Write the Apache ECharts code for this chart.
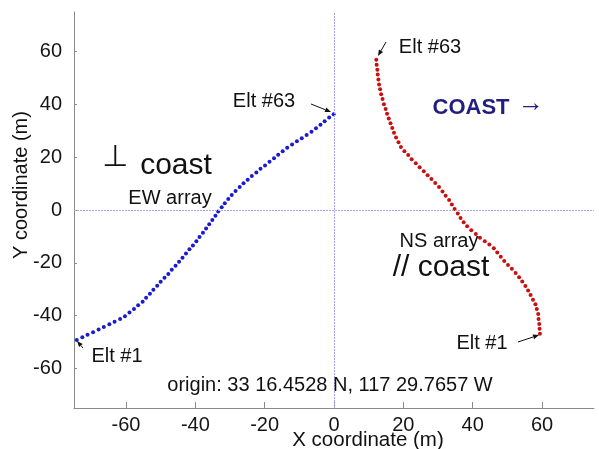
<!DOCTYPE html>
<html>
<head>
<meta charset="utf-8">
<script src="https://cdn.jsdelivr.net/npm/echarts@6/dist/echarts.min.js"></script>
<style>
  html, body { margin: 0; padding: 0; background: #ffffff; }
  #chart { width: 599px; height: 449px; }
</style>
</head>
<body>
<div id="chart"></div>
<script>
// EW array element positions, Elt #1 .. Elt #63 (x, y in metres)
const ewArray = [
  [-74.2,-49.2],[-72.6,-48.2],[-71.1,-47.3],[-69.5,-46.3],[-67.9,-45.3],
  [-66.4,-44.3],[-64.8,-43.3],[-63.3,-42.3],[-61.7,-41.3],[-60.3,-40.2],
  [-59.0,-38.8],[-57.7,-37.5],[-56.5,-36.1],[-55.2,-34.8],[-54.2,-33.2],
  [-53.1,-31.7],[-52.1,-30.2],[-51.0,-28.7],[-50.0,-27.2],[-48.9,-25.7],
  [-47.8,-24.2],[-46.8,-22.6],[-45.7,-21.1],[-44.7,-19.6],[-43.7,-18.1],
  [-42.7,-16.5],[-41.7,-14.9],[-40.7,-13.4],[-39.7,-11.8],[-38.8,-10.2],
  [-37.8,-8.6],[-36.9,-7.0],[-36.0,-5.4],[-35.1,-3.8],[-34.2,-2.2],
  [-33.4,-0.6],[-32.4,1.0],[-31.5,2.6],[-30.5,4.2],[-29.5,5.7],
  [-28.4,7.2],[-27.2,8.7],[-26.1,10.1],[-24.9,11.5],[-23.7,12.9],
  [-22.4,14.2],[-21.2,15.6],[-19.9,16.9],[-18.6,18.3],[-17.3,19.6],
  [-16.1,20.9],[-14.8,22.3],[-13.5,23.6],[-12.1,24.8],[-10.7,26.0],
  [-9.3,27.2],[-7.9,28.4],[-6.5,29.6],[-5.2,31.0],[-3.9,32.3],
  [-2.7,33.6],[-1.4,35.0],[-0.1,36.3]
];

// NS array element positions, Elt #1 .. Elt #63 (x, y in metres)
const nsArray = [
  [59.4,-46.9],[59.3,-45.0],[59.2,-43.2],[59.0,-41.3],[58.9,-39.4],
  [58.5,-37.5],[58.1,-35.7],[57.4,-34.0],[56.7,-32.2],[56.0,-30.5],
  [55.2,-28.8],[54.3,-27.1],[53.4,-25.5],[52.4,-23.9],[51.3,-22.3],
  [50.2,-20.8],[49.1,-19.3],[48.1,-17.7],[47.1,-16.1],[46.1,-14.5],
  [44.8,-13.1],[43.5,-11.8],[42.1,-10.5],[40.9,-9.1],[39.6,-7.7],
  [38.4,-6.2],[37.4,-4.6],[36.5,-3.0],[35.7,-1.3],[34.8,0.4],
  [34.0,2.1],[33.2,3.8],[32.2,5.4],[31.3,7.0],[30.3,8.7],
  [29.2,10.2],[28.1,11.7],[27.0,13.2],[25.9,14.7],[24.7,16.2],
  [23.6,17.7],[22.4,19.2],[21.4,20.8],[20.3,22.3],[19.3,23.9],
  [18.6,25.7],[17.9,27.5],[17.3,29.3],[16.8,31.1],[16.3,32.9],
  [15.8,34.7],[15.3,36.5],[14.9,38.3],[14.4,40.1],[14.0,42.0],
  [13.6,43.8],[13.3,45.7],[13.0,47.5],[12.8,49.4],[12.6,51.3],
  [12.5,53.1],[12.3,55.0],[12.2,56.9]
];

// Axis extent and tick values (metres)
const axisMin = -75;
const axisMax = 75;
const tickValues = [-60, -40, -20, 0, 20, 40, 60];

const FONT = 'Liberation Sans, Arial, sans-serif';
const AXIS_GREY = '#8a8a8a';

const chart = echarts.init(document.getElementById('chart'), null, { renderer: 'canvas' });

// small black pointer arrow: shaft from (x1,y1) with a filled head at (x2,y2)
function arrow(x1, y1, x2, y2) {
  const a = Math.atan2(y2 - y1, x2 - x1);
  const L = 6, W = 2.4;
  const bx = x2 - L * Math.cos(a), by = y2 - L * Math.sin(a);
  const px = -Math.sin(a) * W, py = Math.cos(a) * W;
  return [
    { type: 'line', silent: true, z: 10,
      shape: { x1: x1, y1: y1, x2: bx, y2: by },
      style: { stroke: '#111', lineWidth: 1 } },
    { type: 'polygon', silent: true, z: 10,
      shape: { points: [[x2, y2], [bx + px, by + py], [bx - px, by - py]] },
      style: { fill: '#111' } }
  ];
}

function label(text, x, y, size, opts, rotation) {
  return {
    type: 'text', silent: true, z: 10, x: x, y: y, rotation: rotation || 0,
    style: Object.assign({
      text: text, fontSize: size, fontFamily: FONT, fill: '#111',
      align: 'center', verticalAlign: 'middle'
    }, opts || {})
  };
}

const graphics = [
  label('Elt #63', 264, 101, 20),
  ...arrow(311, 104, 331, 112),
  label('Elt #63', 430, 47, 20),
  ...arrow(386, 42, 378, 56),
  label('\u22A5', 115, 158, 30, { fontFamily: 'DejaVu Sans' }),
  label('coast', 176, 166, 30),
  label('EW array', 170, 198, 20),
  label('COAST', 471, 108, 22, { fontWeight: 'bold', fill: '#221d80' }),
  label('\u2192', 531, 104, 26, { fill: '#221d80' }),
  label('NS array', 439, 241, 20),
  label('// coast', 441, 268, 30),
  label('Elt #1', 482, 343, 20),
  ...arrow(518, 342, 539, 335),
  label('Elt #1', 117, 356, 20),
  ...arrow(83, 348, 77, 341),
  label('origin: 33 16.4528 N, 117 29.7657 W', 330, 385, 20),
  label('X coordinate (m)', 368, 440, 20.5),
  label('Y coordinate (m)', 21, 185, 20, null, Math.PI / 2)
];

const option = {
  backgroundColor: '#ffffff',
  animation: false,
  grid: { left: 74, right: 5, top: 12, bottom: 41 },
  xAxis: {
    type: 'value', min: axisMin, max: axisMax,
    axisLine: { show: true, onZero: false, lineStyle: { color: AXIS_GREY, width: 1 } },
    axisTick: { show: true, inside: true, length: 6, customValues: tickValues,
                lineStyle: { color: AXIS_GREY } },
    axisLabel: { customValues: tickValues, fontSize: 20, fontFamily: FONT,
                 color: '#151515', margin: 7 },
    splitLine: { show: false }
  },
  yAxis: {
    type: 'value', min: axisMin, max: axisMax,
    axisLine: { show: true, onZero: false, lineStyle: { color: AXIS_GREY, width: 1 } },
    axisTick: { show: true, inside: true, length: 3, customValues: tickValues,
                lineStyle: { color: AXIS_GREY } },
    axisLabel: { customValues: tickValues, fontSize: 20, fontFamily: FONT,
                 color: '#151515', margin: 12 },
    splitLine: { show: false }
  },
  series: [
    {
      // reference crosshair through the origin
      name: 'origin', type: 'scatter', data: [], z: 1,
      markLine: {
        silent: true, symbol: 'none', label: { show: false },
        lineStyle: { color: '#a4a4f4', type: [2, 1], width: 1, opacity: 1 },
        emphasis: { disabled: true },
        data: [{ xAxis: 0 }, { yAxis: 0 }]
      }
    },
    {
      name: 'EW array', type: 'scatter', data: ewArray,
      symbol: 'circle', symbolSize: 4,
      itemStyle: { color: '#1a1ad0', opacity: 1 },
      z: 3
    },
    {
      name: 'NS array', type: 'scatter', data: nsArray,
      symbol: 'circle', symbolSize: 4,
      itemStyle: { color: '#c81010', opacity: 1 },
      z: 3
    }
  ],
  graphic: graphics
};

chart.setOption(option);
</script>
</body>
</html>
